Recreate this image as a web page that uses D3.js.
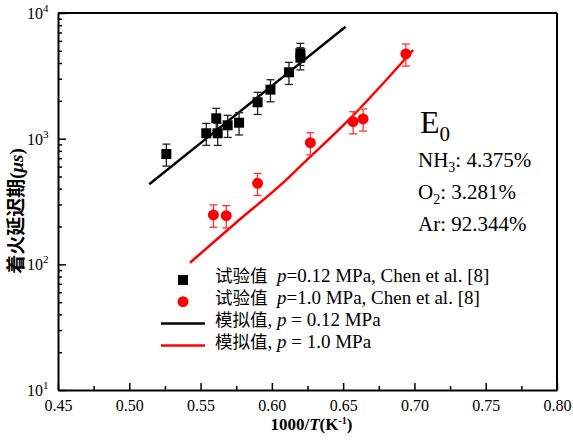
<!DOCTYPE html>
<html>
<head>
<meta charset="utf-8">
<script src="https://cdn.jsdelivr.net/npm/d3@7"></script>
<style>
  body { margin: 0; background: #fff; }
  svg text { font-family: "Liberation Serif", "Times New Roman", serif; }
  svg tspan.cjk { font-family: "Noto Sans CJK SC", sans-serif; }
</style>
</head>
<body>
<div id="chart"></div>
<script>
// experiment, p = 0.12 MPa (Chen et al.)
var expLowX = [0.526, 0.554, 0.561, 0.562, 0.569, 0.577, 0.590, 0.599, 0.612, 0.620, 0.620];
var expLowY = [755, 1104, 1452, 1104, 1278, 1340, 1948, 2455, 3374, 4408, 4778];
var expLowErr = [150, 220, 290, 220, 255, 270, 390, 490, 675, 880, 955];

// experiment, p = 1.0 MPa
var expHighX = [0.559, 0.568, 0.590, 0.627, 0.657, 0.664, 0.694];
var expHighY = [247, 244, 441, 929, 1365, 1436, 4722];
var expHighErr = [50, 49, 88, 185, 273, 287, 945];

// simulation curves
var simLowX = [0.514, 0.560, 0.600, 0.6517];
var simLowY = [434, 1138, 2630, 7785];
var simHighX = [0.5426, 0.575, 0.6106, 0.6197, 0.655, 0.6991];
var simHighY = [103, 215, 477, 600, 1450, 5078];

var xTicks = [0.45, 0.50, 0.55, 0.60, 0.65, 0.70, 0.75, 0.80];
var xMinor = [0.475, 0.525, 0.575, 0.625, 0.675, 0.725, 0.775];
var yTicks = [10, 100, 1000, 10000];
var yExp = ["1", "2", "3", "4"];

var margin = {top: 13, right: 16, bottom: 51, left: 58},
    width = 573 - margin.left - margin.right,
    height = 441 - margin.top - margin.bottom;

var svg = d3.select("#chart")
  .append("svg")
    .attr("width", 573)
    .attr("height", 441)
  .append("g")
    .attr("transform", "translate(" + margin.left + "," + margin.top + ")");

var x = d3.scaleLinear().domain([0.45, 0.80]).range([0, width]);
var y = d3.scaleLog().domain([10, 10000]).range([height, 0]);

// minor y ticks
var yMinor = [];
yTicks.slice(0, 3).forEach(function(d) {
  for (var k = 2; k <= 9; k++) yMinor.push(d * k);
});

// x axis
var xAxis = svg.append("g")
  .attr("transform", "translate(0," + height + ")")
  .call(d3.axisBottom(x).tickValues(xTicks).tickSize(-7).tickSizeOuter(0).tickPadding(10)
    .tickFormat(d3.format(".2f")));
svg.append("g")
  .attr("transform", "translate(0," + height + ")")
  .call(d3.axisBottom(x).tickValues(xMinor).tickSize(-4).tickFormat(""))
  .select(".domain").remove();

// y axis
var yAxis = svg.append("g")
  .call(d3.axisLeft(y).tickValues(yTicks).tickSize(-8).tickSizeOuter(0).tickFormat(""));
svg.append("g")
  .call(d3.axisLeft(y).tickValues(yMinor).tickSize(-4).tickFormat(""))
  .select(".domain").remove();

svg.selectAll("g").attr("font-family", null);
svg.selectAll(".domain").attr("stroke-width", 2);
svg.selectAll(".tick line").attr("stroke-width", 1.5);
xAxis.selectAll("text")
  .style("font-size", "16px")
  .attr("fill", "#000");

// y tick labels with superscripts
var yLab = svg.selectAll(".ylab")
  .data(yTicks)
  .enter().append("text")
    .attr("x", -31)
    .attr("y", function(d) { return y(d) + 6; })
    .style("font-size", "16px");
yLab.append("tspan").attr("x", -31).text("10");
yLab.append("tspan")
  .attr("dy", -7)
  .style("font-size", "11px")
  .text(function(d, i) { return yExp[i]; });

// frame top & right
svg.append("line").attr("x1", 0).attr("x2", width).attr("y1", 0).attr("y2", 0)
  .attr("stroke", "#000").attr("stroke-width", 2);
svg.append("line").attr("x1", width).attr("x2", width).attr("y1", 0).attr("y2", height)
  .attr("stroke", "#000").attr("stroke-width", 2);

// axis titles
var xt = svg.append("text")
  .attr("x", width / 2 + 4)
  .attr("y", height + 40)
  .attr("text-anchor", "middle")
  .style("font-size", "17px")
  .style("font-weight", "bold");
xt.append("tspan").text("1000/");
xt.append("tspan").style("font-style", "italic").text("T");
xt.append("tspan").text("(K");
xt.append("tspan").attr("dy", -6).style("font-size", "10px").text("-1");
xt.append("tspan").attr("dy", 6).text(")");

var yt = svg.append("text")
  .attr("transform", "translate(" + (-35) + "," + (198) + ") rotate(-90)")
  .attr("text-anchor", "middle")
  .style("font-size", "19px")
  .style("font-weight", "bold");
yt.append("tspan").attr("class", "cjk").text("着火延迟期");
yt.append("tspan").text("(");
yt.append("tspan").style("font-style", "italic").text("μs");
yt.append("tspan").text(")");

// simulation lines
var line = d3.line()
  .x(function(d) { return x(d[0]); })
  .y(function(d) { return y(d[1]); });

svg.append("path")
  .datum(d3.zip(simLowX, simLowY))
  .attr("fill", "none")
  .attr("stroke", "#000")
  .attr("stroke-width", 2.5)
  .attr("d", line);

svg.append("path")
  .datum(d3.zip(simHighX, simHighY))
  .attr("fill", "none")
  .attr("stroke", "#ff0000")
  .attr("stroke-width", 2.5)
  .attr("d", line.curve(d3.curveMonotoneX));

// error bars
function errorBars(xs, ys, es, color) {
  var g = svg.append("g").attr("stroke", color).attr("stroke-width", 1.3);
  var data = d3.zip(xs, ys, es);
  g.selectAll(".v").data(data).enter().append("line")
    .attr("x1", function(d) { return x(d[0]); })
    .attr("x2", function(d) { return x(d[0]); })
    .attr("y1", function(d) { return y(d[1] - d[2]); })
    .attr("y2", function(d) { return y(d[1] + d[2]); });
  [1, -1].forEach(function(s) {
    g.selectAll(".c" + s).data(data).enter().append("line")
      .attr("x1", function(d) { return x(d[0]) - 4; })
      .attr("x2", function(d) { return x(d[0]) + 4; })
      .attr("y1", function(d) { return y(d[1] + s * d[2]); })
      .attr("y2", function(d) { return y(d[1] + s * d[2]); });
  });
}
errorBars(expLowX, expLowY, expLowErr, "#222");
errorBars(expHighX, expHighY, expHighErr, "#ff3333");

// markers
svg.selectAll(".sq")
  .data(d3.zip(expLowX, expLowY))
  .enter().append("rect")
    .attr("x", function(d) { return x(d[0]) - 5; })
    .attr("y", function(d) { return y(d[1]) - 5; })
    .attr("width", 10)
    .attr("height", 10)
    .attr("fill", "#000");

svg.selectAll(".ci")
  .data(d3.zip(expHighX, expHighY))
  .enter().append("circle")
    .attr("cx", function(d) { return x(d[0]); })
    .attr("cy", function(d) { return y(d[1]); })
    .attr("r", 5.5)
    .attr("fill", "#ff0000");

// composition note
var e0 = svg.append("text").attr("x", 362).attr("y", 120).style("font-size", "32px");
e0.append("tspan").text("E");
e0.append("tspan").attr("dy", 8).style("font-size", "21px").text("0");

var n1 = svg.append("text").attr("x", 360).attr("y", 154).style("font-size", "21px");
n1.append("tspan").text("NH");
n1.append("tspan").attr("dy", 5).style("font-size", "14px").text("3");
n1.append("tspan").attr("dy", -5).text(": 4.375%");

var n2 = svg.append("text").attr("x", 360).attr("y", 186).style("font-size", "21px");
n2.append("tspan").text("O");
n2.append("tspan").attr("dy", 5).style("font-size", "14px").text("2");
n2.append("tspan").attr("dy", -5).text(": 3.281%");

svg.append("text").attr("x", 360).attr("y", 218).style("font-size", "21px").text("Ar: 92.344%");

// legend
var lg = svg.append("g");
lg.append("rect").attr("x", 120).attr("y", 262).attr("width", 10).attr("height", 10).attr("fill", "#000");
lg.append("circle").attr("cx", 125).attr("cy", 288.7).attr("r", 5.5).attr("fill", "#ff0000");
lg.append("line").attr("x1", 103).attr("x2", 147).attr("y1", 310.5).attr("y2", 310.5)
  .attr("stroke", "#000").attr("stroke-width", 2.5);
lg.append("line").attr("x1", 103).attr("x2", 147).attr("y1", 332.5).attr("y2", 332.5)
  .attr("stroke", "#ff0000").attr("stroke-width", 2.5);

function legendText(yy, parts) {
  var t = lg.append("text").attr("x", 157).attr("y", yy).style("font-size", "19px");
  parts.forEach(function(p) {
    var s = t.append("tspan").text(p[0]);
    if (p[1] === "cjk") s.attr("class", "cjk").style("font-size", "17.5px");
    if (p[1] === "i") s.style("font-style", "italic");
  });
}
legendText(269, [["试验值", "cjk"], ["\u00a0\u00a0", ""], ["p", "i"], ["=0.12 MPa, Chen et al. [8]", ""]]);
legendText(291, [["试验值", "cjk"], ["\u00a0\u00a0", ""], ["p", "i"], ["=1.0 MPa, Chen et al. [8]", ""]]);
legendText(313, [["模拟值", "cjk"], [", ", ""], ["p", "i"], [" = 0.12 MPa", ""]]);
legendText(335, [["模拟值", "cjk"], [", ", ""], ["p", "i"], [" = 1.0 MPa", ""]]);
</script>
</body>
</html>
